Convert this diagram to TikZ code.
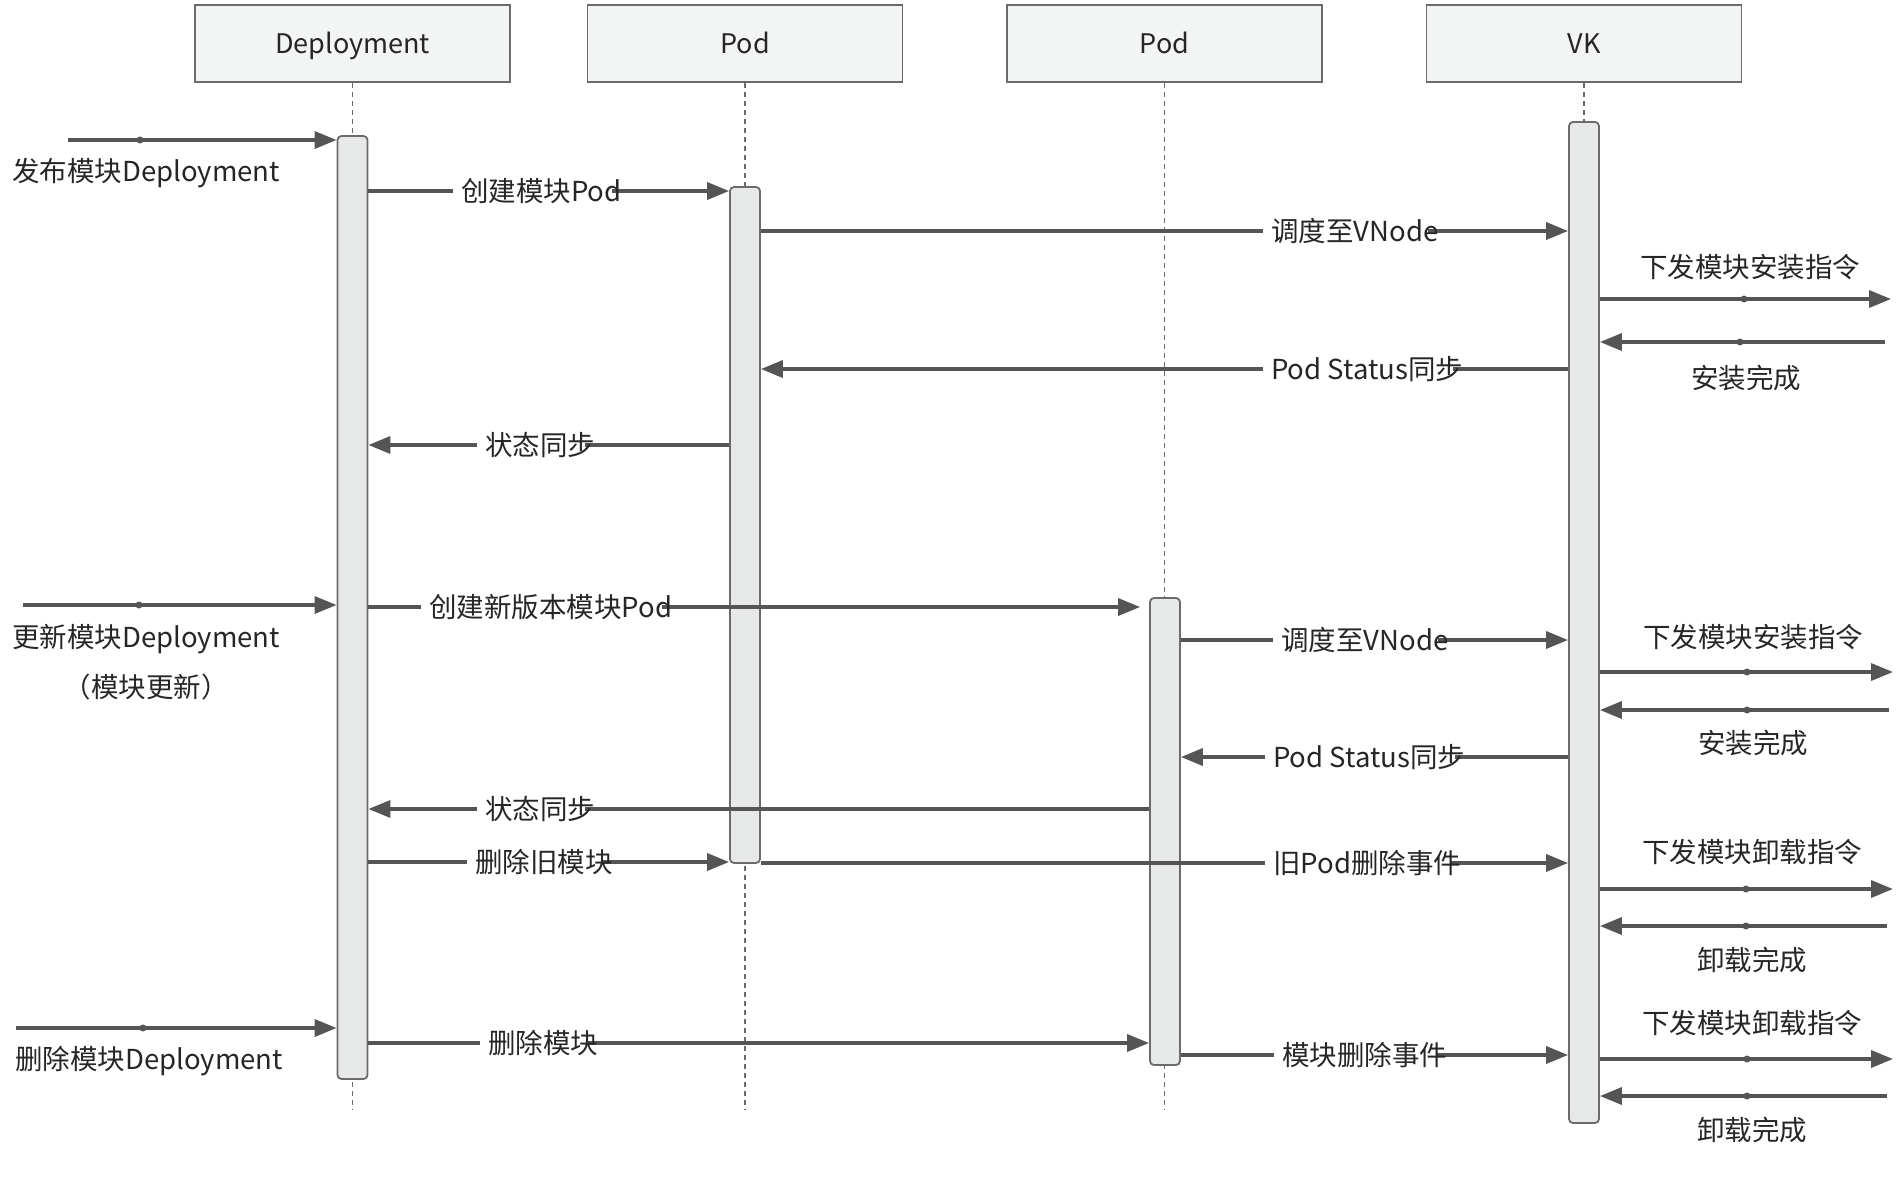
\documentclass[tikz,border=0pt]{standalone}
\usepackage{fontspec}
\setmainfont{Noto Sans CJK SC}
\usetikzlibrary{arrows.meta}
\definecolor{lnc}{HTML}{555555}
\definecolor{bdc}{HTML}{6B6B6B}
\definecolor{hdf}{HTML}{F3F4F4}
\definecolor{acf}{HTML}{E7E8E8}
\tikzset{
  head/.style={draw=bdc, line width=1.5pt, fill=hdf, minimum width=315pt, minimum height=77pt, inner sep=0pt, text height=20pt, text depth=0pt, text=black!85, font=\fontsize{27}{32}\selectfont},
  actbar/.style={draw=bdc, line width=1.8pt, fill=acf, rounded corners=4pt, minimum width=30pt, inner sep=0pt},
  life/.style={draw=bdc, line width=1.4pt, dash pattern=on 5pt off 4pt},
  msg/.style={draw=lnc, line width=3.5pt, -{Triangle[length=22pt,width=17pt]}},
  lbl/.style={fill=white, inner sep=0pt, anchor=west, text=black!85, font=\fontsize{27.5}{32}\selectfont},
  free/.style={text=black!85, font=\fontsize{27.5}{32}\selectfont, inner sep=0pt},
  dotm/.style={fill=lnc, circle, inner sep=0pt, minimum size=7pt}
}
\newcommand{\mlabel}[3]{\node[lbl] (#1) at (#2) {\hspace*{8pt}#3\hspace*{-10pt}};}
\begin{document}
\begin{tikzpicture}[x=1pt,y=-1pt]
\useasboundingbox (0,0) rectangle (1896,1192);
% headers
\node[head] (hDep) at (352.5,43.5) {Deployment};
\node[head] (hPodA) at (745,43.5) {Pod};
\node[head] (hPodB) at (1164.5,43.5) {Pod};
\node[head] (hVK) at (1584,43.5) {VK};
% lifeline ends
\coordinate (eDep) at (352.5,1110);
\coordinate (ePodA) at (745,1110);
\coordinate (ePodB) at (1164.5,1110);
\coordinate (eVK) at (1584,1110);
\draw[life] (hDep.south) -- (eDep);
\draw[life] (hPodA.south) -- (ePodA);
\draw[life] (hPodB.south) -- (ePodB);
\draw[life] (hVK.south) -- (eVK);
% activations
\node[actbar, minimum height=943pt] (aDep) at (352.5,607.5) {};
\node[actbar, minimum height=676pt] (aPodA) at (745,525) {};
\node[actbar, minimum height=467pt] (aPodB) at (1165,831.5) {};
\node[actbar, minimum height=1001pt] (aVK) at (1584,622.5) {};
% free ends
\coordinate (in1) at (68,140);
\coordinate (in2) at (23,605);
\coordinate (in3) at (16,1028);
\coordinate (o1) at (1891,299);
\coordinate (r1) at (1885,342);
\coordinate (o2) at (1893,672);
\coordinate (r2) at (1889,710);
\coordinate (o3) at (1893,889);
\coordinate (r3) at (1887,926);
\coordinate (o4) at (1893,1059);
\coordinate (r4) at (1887,1096);
% incoming
\draw[msg] (in1) -- (aDep.west |- in1);
\node[dotm] (d1) at (140,140) {};
\node[free] (t1) at (146,173) {发布模块Deployment};
\draw[msg] (in2) -- (aDep.west |- in2);
\node[dotm] (d2) at (139,605) {};
\node[free] (t2) at (146,639) {更新模块Deployment};
\node[free] (t2b) at (146,687) {（模块更新）};
\draw[msg] (in3) -- (aDep.west |- in3);
\node[dotm] (d3) at (143,1028) {};
\node[free] (t3) at (149,1061) {删除模块Deployment};
% messages
\draw[msg] (aDep.east |- 0,191) -- (aPodA.west |- 0,191);
\mlabel{m1}{453,191}{创建模块Pod}
\draw[msg] (aPodA.east |- 0,231) -- (aVK.west |- 0,231);
\mlabel{m2}{1263,231}{调度至VNode}
\draw[msg] (aVK.west |- 0,369) -- (aPodA.east |- 0,369);
\mlabel{m3}{1263,369}{Pod Status同步}
\draw[msg] (aPodA.west |- 0,445) -- (aDep.east |- 0,445);
\mlabel{m4}{477,445}{状态同步}
\draw[msg] (aDep.east |- 0,607) -- ([xshift=-9pt]aPodB.west |- 0,607);
\mlabel{m5}{421,607}{创建新版本模块Pod}
\draw[msg] (aPodB.east |- 0,640) -- (aVK.west |- 0,640);
\mlabel{m6}{1273,640}{调度至VNode}
\draw[msg] (aVK.west |- 0,757) -- (aPodB.east |- 0,757);
\mlabel{m7}{1265,757}{Pod Status同步}
\draw[msg] (aPodB.west |- 0,809) -- (aDep.east |- 0,809);
\mlabel{m8}{477,809}{状态同步}
\draw[msg] (aDep.east |- 0,862) -- (aPodA.west |- 0,862);
\mlabel{m9}{467,862}{删除旧模块}
\draw[msg] (aPodA.east |- 0,863) -- (aVK.west |- 0,863);
\mlabel{m10}{1265,863}{旧Pod删除事件}
\draw[msg] (aDep.east |- 0,1043) -- (aPodB.west |- 0,1043);
\mlabel{m11}{480,1043}{删除模块}
\draw[msg] (aPodB.east |- 0,1055) -- (aVK.west |- 0,1055);
\mlabel{m12}{1274,1055}{模块删除事件}
% outgoing from VK
\draw[msg] (aVK.east |- o1) -- (o1);
\node[dotm] (d4) at (1744,299) {};
\node[free] (t4) at (1750,267) {下发模块安装指令};
\draw[msg] (r1) -- (aVK.east |- r1);
\node[dotm] (d5) at (1740,342) {};
\node[free] (t5) at (1746,378) {安装完成};
\draw[msg] (aVK.east |- o2) -- (o2);
\node[dotm] (d6) at (1747,672) {};
\node[free] (t6) at (1753,637) {下发模块安装指令};
\draw[msg] (r2) -- (aVK.east |- r2);
\node[dotm] (d7) at (1747,710) {};
\node[free] (t7) at (1753,743) {安装完成};
\draw[msg] (aVK.east |- o3) -- (o3);
\node[dotm] (d8) at (1746,889) {};
\node[free] (t8) at (1752,852) {下发模块卸载指令};
\draw[msg] (r3) -- (aVK.east |- r3);
\node[dotm] (d9) at (1746,926) {};
\node[free] (t9) at (1752,960) {卸载完成};
\draw[msg] (aVK.east |- o4) -- (o4);
\node[dotm] (d10) at (1747,1059) {};
\node[free] (t10) at (1752,1023) {下发模块卸载指令};
\draw[msg] (r4) -- (aVK.east |- r4);
\node[dotm] (d11) at (1747,1096) {};
\node[free] (t11) at (1752,1130) {卸载完成};
\end{tikzpicture}
\end{document}
